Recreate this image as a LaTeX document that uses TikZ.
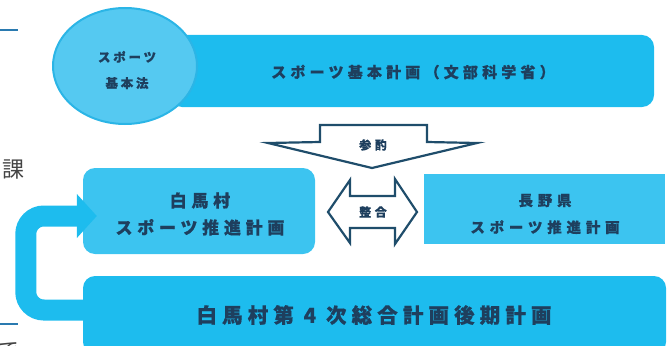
\documentclass[tikz,border=0pt]{standalone}
\usepackage{fontspec}
\newfontfamily\jp{Noto Sans CJK JP}
\usetikzlibrary{shapes.geometric,arrows.meta}
\definecolor{barblue}{HTML}{1DBCEE}
\definecolor{boxblue}{HTML}{3CC4F0}
\definecolor{ellblue}{HTML}{55C9F1}
\definecolor{ellrim}{HTML}{2BB5E6}
\definecolor{ink}{HTML}{1E3F5E}
\definecolor{arrowline}{HTML}{1F4D6B}
\definecolor{ruleblue}{HTML}{2A7AB0}
\definecolor{margink}{HTML}{444444}
\begin{document}
\begin{tikzpicture}[x=1pt,y=-1pt,
  bar/.style={fill=barblue,draw=none,rounded corners=12,inner sep=0},
  box/.style={fill=boxblue,draw=none,inner sep=0},
  lbl/.style={text=ink,inner sep=0,align=center},
  outlinearrow/.style={draw=arrowline,line width=2.2,fill=white,line join=miter},
  looparrow/.style={draw=barblue,line width=21,rounded corners=18,-{Triangle[length=20pt,width=43pt]}},
  marginrule/.style={draw=ruleblue,line width=1.2},
  margintext/.style={text=margink,inner sep=0,font=\jp\fontsize{22}{22}\selectfont}]
\useasboundingbox (0,0) rectangle (668,345);

% margin fragments
\coordinate (r1a) at (0,30); \coordinate (r1b) at (18,30);
\coordinate (r2a) at (0,324); \coordinate (r2b) at (18,324);
\draw[marginrule] (r1a) -- (r1b);
\draw[marginrule] (r2a) -- (r2b);
\node[margintext] (ka) at (13.5,170) {課};
\node[margintext] (de) at (9,351) {で};

% top bar and ellipse
\node[bar,minimum width=484,minimum height=72] (keikaku) at (412,71) {};
\node[lbl,font=\jp\bfseries\fontsize{15}{15}\selectfont\addfontfeatures{LetterSpace=28,FakeBold=0.6}] (keikakut) at (413,72) {スポーツ基本計画（文部科学省）};
\node[ellipse,fill=ellblue,draw=ellrim,line width=2,minimum width=144,minimum height=116,inner sep=0] (hou) at (125,66) {};
\node[lbl,font=\jp\bfseries\fontsize{12.5}{26}\selectfont\addfontfeatures{LetterSpace=22,FakeBold=0.6}] (hout) at (127,70) {スポーツ\\基本法};

% 参酌 arrow
\draw[outlinearrow] (320,125) -- (427,125) -- (427,142) -- (477,143) -- (372,168) -- (268,143) -- (320,142) -- cycle;
\node[lbl,font=\jp\bfseries\fontsize{12}{12}\selectfont\addfontfeatures{LetterSpace=30,FakeBold=0.6}] (sansha) at (373,145) {参酌};

% left and right boxes
\node[box,rounded corners=12,minimum width=232,minimum height=86] (suishin) at (199,211) {};
\node[lbl,font=\jp\bfseries\fontsize{17}{27}\selectfont\addfontfeatures{LetterSpace=28,FakeBold=0.6}] (suishint) at (200,214) {白馬村\\スポーツ推進計画};
\node[box,minimum width=241,minimum height=70] (nagano) at (544.5,209) {};
\node[lbl,font=\jp\bfseries\fontsize{14.5}{27}\selectfont\addfontfeatures{LetterSpace=33,FakeBold=0.6}] (naganot) at (545,214) {長野県\\スポーツ推進計画};

% 整合 double arrow
\draw[outlinearrow] (328,212) -- (350,180) -- (350,196) -- (395,196) -- (395,179) -- (417,212) -- (395,244) -- (395,228) -- (350,228) -- (350,243) -- cycle;
\node[lbl,font=\jp\bfseries\fontsize{12}{12}\selectfont\addfontfeatures{LetterSpace=30,FakeBold=0.6}] (seigo) at (373,212) {整合};

% bottom bar
\node[bar,minimum width=583,minimum height=78] (sogo) at (374.5,315) {};
\node[lbl,font=\jp\bfseries\fontsize{20.5}{21}\selectfont\addfontfeatures{LetterSpace=25,FakeBold=0.6}] (sogot) at (374,315) {白馬村第 4 次総合計画後期計画};

% loop arrow
\draw[looparrow] ([xshift=8pt,yshift=5pt]sogo.west) -- ++(-65,0) -- ++(0,-94) -- ([xshift=14pt,yshift=-5pt]suishin.west);
\end{tikzpicture}
\end{document}
